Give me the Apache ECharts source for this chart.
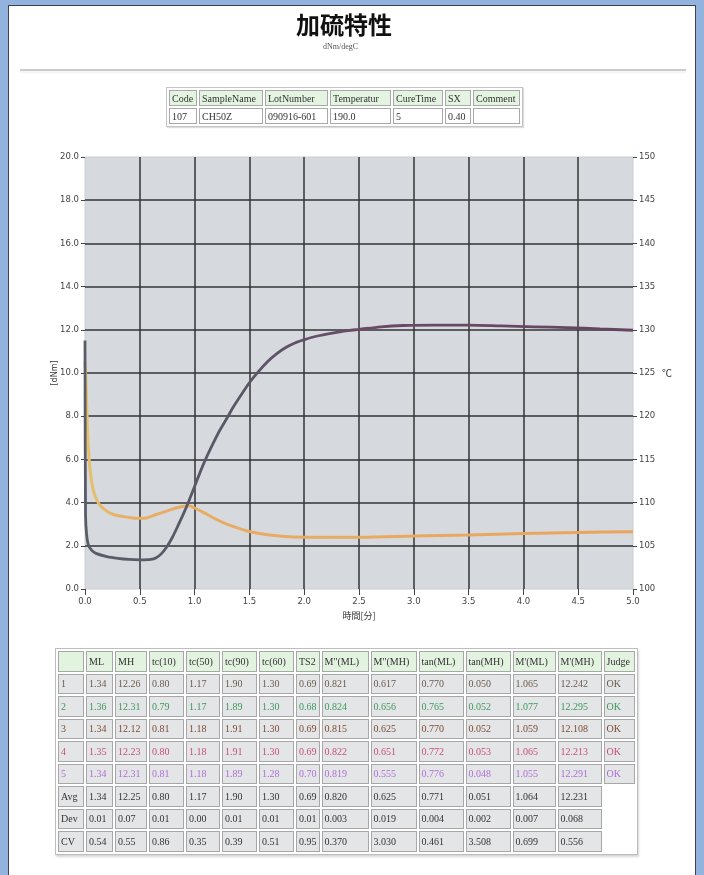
<!DOCTYPE html>
<html>
<head>
<meta charset="utf-8">
<script src="https://cdn.jsdelivr.net/npm/echarts@6/dist/echarts.min.js"></script>
<style>
  html, body { margin: 0; padding: 0; }
  body { width: 704px; height: 875px; background: #93b3df; position: relative; overflow: hidden; }
  #sheet { position: absolute; left: 8px; top: 5px; width: 688px; height: 870px; background: #fff;
           border-left: 1px solid #3d4250; border-top: 1px solid #3d4250; border-right: 1px solid #3d4250; box-sizing: border-box; }
  #rule { position: absolute; left: 20px; top: 69px; width: 666px; height: 2px; background: #cbcbcb;
          box-shadow: 0 2px 2px #f0f0f0; }
  #chart { position: absolute; left: 0; top: 0; width: 704px; height: 875px; }
  table { position: absolute; border-collapse: separate; table-layout: fixed;
          font-family: "Liberation Serif", "DejaVu Serif", serif; z-index: 2; }
  td { box-sizing: border-box; white-space: nowrap; overflow: hidden; padding: 0 2px; }
  #info { left: 166px; top: 87px; border: 1px solid #c4c4c4; border-spacing: 2px; font-size: 10px; background: #fff;
          box-shadow: 1px 1px 1px #ddd; }
  #info td { border: 1px solid #a9a9a9; height: 16px; color: #333; }
  #info tr.h td { background: #e3f4e1; }
  #result { left: 55px; top: 648px; border: 1px solid #bdbdbd; border-spacing: 2px; font-size: 10px; background: #fff;
            box-shadow: 1px 2px 2px #d6d6d6; }
  #result td { border: 1px solid #a7a7a7; height: 20.5px; background: #e4e5e7; color: #333; }
  #result tr.h td { background: #e2f3df; color: #333; }
  #result td.blank { background: #fff; border: none; }
</style>
</head>
<body>
<div id="sheet"></div>
<div id="rule"></div>
<div id="chart"></div>
<table id="info"></table>
<table id="result"></table>
<script>
// Cure curve: elastic torque S' over time (min, dN·m)
const torqueTime  = [0, 0.005, 0.015, 0.03, 0.06, 0.1, 0.2, 0.3, 0.4, 0.5, 0.6, 0.65, 0.7, 0.75, 0.8, 0.85, 0.9, 0.95, 1.0, 1.05, 1.1, 1.17, 1.23, 1.3, 1.35, 1.42, 1.5, 1.58, 1.66, 1.75, 1.84, 1.92, 2.0, 2.1, 2.27, 2.4, 2.5, 2.7, 2.9, 3.2, 3.5, 3.8, 4.1, 4.4, 4.7, 5.0];
const torqueValue = [11.5, 3.4, 2.5, 2.05, 1.8, 1.65, 1.5, 1.42, 1.37, 1.35, 1.37, 1.45, 1.65, 1.98, 2.42, 2.95, 3.5, 4.1, 4.75, 5.4, 6.0, 6.75, 7.35, 7.95, 8.4, 8.95, 9.55, 10.05, 10.5, 10.9, 11.2, 11.4, 11.54, 11.69, 11.86, 11.96, 12.02, 12.14, 12.2, 12.22, 12.22, 12.18, 12.14, 12.1, 12.04, 11.98];

// Viscous torque S'' over time
const lossTime  = [0, 0.01, 0.02, 0.03, 0.045, 0.07, 0.1, 0.14, 0.2, 0.26, 0.35, 0.45, 0.5, 0.57, 0.65, 0.75, 0.83, 0.9, 0.95, 1.0, 1.08, 1.17, 1.25, 1.35, 1.5, 1.65, 1.8, 2.0, 2.25, 2.5, 3.0, 3.5, 4.0, 4.5, 5.0];
const lossValue = [10.5, 9.5, 7.8, 6.6, 5.6, 4.7, 4.2, 3.85, 3.6, 3.45, 3.35, 3.28, 3.27, 3.3, 3.45, 3.62, 3.75, 3.83, 3.85, 3.75, 3.55, 3.3, 3.1, 2.9, 2.66, 2.52, 2.44, 2.4, 2.4, 2.4, 2.45, 2.5, 2.57, 2.62, 2.65];

// Sample information
const infoHeaders = ['Code', 'SampleName', 'LotNumber', 'Temperatur', 'CureTime', 'SX', 'Comment'];
const infoValues  = ['107', 'CH50Z', '090916-601', '190.0', '5', '0.40', ''];

// Cure test results
const resultHeaders = ['', 'ML', 'MH', 'tc(10)', 'tc(50)', 'tc(90)', 'tc(60)', 'TS2', 'M"(ML)', 'M"(MH)', 'tan(ML)', 'tan(MH)', "M'(ML)", "M'(MH)", 'Judge'];
const resultLabels  = ['1', '2', '3', '4', '5', 'Avg', 'Dev', 'CV'];
const resultRows = [
  ['1.34', '12.26', '0.80', '1.17', '1.90', '1.30', '0.69', '0.821', '0.617', '0.770', '0.050', '1.065', '12.242', 'OK'],
  ['1.36', '12.31', '0.79', '1.17', '1.89', '1.30', '0.68', '0.824', '0.656', '0.765', '0.052', '1.077', '12.295', 'OK'],
  ['1.34', '12.12', '0.81', '1.18', '1.91', '1.30', '0.69', '0.815', '0.625', '0.770', '0.052', '1.059', '12.108', 'OK'],
  ['1.35', '12.23', '0.80', '1.18', '1.91', '1.30', '0.69', '0.822', '0.651', '0.772', '0.053', '1.065', '12.213', 'OK'],
  ['1.34', '12.31', '0.81', '1.18', '1.89', '1.28', '0.70', '0.819', '0.555', '0.776', '0.048', '1.055', '12.291', 'OK'],
  ['1.34', '12.25', '0.80', '1.17', '1.90', '1.30', '0.69', '0.820', '0.625', '0.771', '0.051', '1.064', '12.231'],
  ['0.01', '0.07', '0.01', '0.00', '0.01', '0.01', '0.01', '0.003', '0.019', '0.004', '0.002', '0.007', '0.068'],
  ['0.54', '0.55', '0.86', '0.35', '0.39', '0.51', '0.95', '0.370', '3.030', '0.461', '3.508', '0.699', '0.556']
];

const rowColors = ['#6b5c4c', '#3d9a5c', '#7c4c34', '#c6507c', '#b070d6', '#333', '#333', '#333'];
const infoWidths = [28, 64, 63, 61, 50, 26, 47];
const resultWidths = [26, 27, 32, 35, 34, 35, 35, 22, 47, 46, 45, 45, 43, 44, 31];

// ---- tables ----
(function buildTables() {
  const info = document.getElementById('info');
  let html = '<tr class="h">' + infoHeaders.map((h, i) => `<td style="width:${infoWidths[i]}px">${h}</td>`).join('') + '</tr>';
  html += '<tr>' + infoValues.map(v => `<td>${v}</td>`).join('') + '</tr>';
  info.innerHTML = html;

  const res = document.getElementById('result');
  let r = '<tr class="h">' + resultHeaders.map((h, i) => `<td style="width:${resultWidths[i]}px">${h}</td>`).join('') + '</tr>';
  resultRows.forEach((row, i) => {
    const c = rowColors[i];
    r += '<tr>';
    r += `<td style="color:${c}">${resultLabels[i]}</td>`;
    row.forEach(v => { r += `<td style="color:${c}">${v}</td>`; });
    if (i === 5) r += '<td class="blank" rowspan="3"></td>';
    r += '</tr>';
  });
  res.innerHTML = r;
})();

// ---- chart ----
const chart = echarts.init(document.getElementById('chart'), null, { renderer: 'canvas' });
const toPairs = (xs, ys) => xs.map((x, i) => [x, ys[i]]);
const axisText = { color: '#444', fontSize: 8.5, fontFamily: 'DejaVu Sans, sans-serif' };

chart.setOption({
  animation: false,
  graphic: [
    { type: 'text', left: 296, top: 13, style: { text: '加硫特性', font: 'bold 24px "Noto Sans CJK JP", sans-serif', fill: '#111' } },
    { type: 'text', left: 323, top: 43, style: { text: 'dNm/degC', font: '8px "Liberation Serif", serif', fill: '#555' } }
  ],
  grid: { left: 85, right: 71, top: 157, bottom: 286, show: true, backgroundColor: '#d6dadf', borderColor: '#c9cdd2', borderWidth: 1 },
  xAxis: {
    type: 'value', min: 0, max: 5, interval: 0.5,
    name: '時間[分]', nameLocation: 'middle', nameGap: 22,
    nameTextStyle: { color: '#333', fontSize: 9, fontFamily: '"Noto Sans CJK JP", sans-serif' },
    axisLine: { show: false },
    axisTick: { show: true, length: 6, lineStyle: { color: '#444', width: 1 } },
    axisLabel: Object.assign({ margin: 8, formatter: v => v.toFixed(1) }, axisText),
    splitLine: { show: true, showMinLine: false, showMaxLine: false, lineStyle: { color: '#333', width: 1.5 } }
  },
  yAxis: [
    {
      type: 'value', min: 0, max: 20, interval: 2, position: 'left',
      name: '[dNm]', nameLocation: 'middle', nameGap: 26, nameRotate: 90, nameMoveOverlap: false,
      nameTextStyle: { color: '#333', fontSize: 8, fontFamily: 'DejaVu Sans, sans-serif' },
      axisLine: { show: false },
      axisTick: { show: true, length: 4, lineStyle: { color: '#444' } },
      axisLabel: Object.assign({ margin: 6, formatter: v => v.toFixed(1) }, axisText),
      splitLine: { show: true, showMinLine: false, showMaxLine: false, lineStyle: { color: '#333', width: 1.5 } }
    },
    {
      type: 'value', min: 100, max: 150, interval: 5, position: 'right',
      name: '℃', nameLocation: 'middle', nameGap: 29, nameRotate: 0, nameMoveOverlap: false,
      nameTextStyle: { color: '#333', fontSize: 10, fontFamily: '"Noto Sans CJK JP", sans-serif' },
      axisLine: { show: false },
      axisTick: { show: true, length: 4, lineStyle: { color: '#444' } },
      axisLabel: Object.assign({ margin: 6, formatter: v => String(v) }, axisText),
      splitLine: { show: false }
    }
  ],
  series: [
    {
      name: "S''", type: 'line', yAxisIndex: 0, showSymbol: false, smooth: 0.3, z: 3,
      data: toPairs(lossTime, lossValue),
      lineStyle: {
        width: 3,
        color: new echarts.graphic.LinearGradient(0, 0, 1, 0, [
          { offset: 0, color: '#e6c46a' }, { offset: 0.08, color: '#e7ae66' }, { offset: 1, color: '#eaa45c' }
        ])
      }
    },
    {
      name: "S'", type: 'line', yAxisIndex: 0, showSymbol: false, smooth: 0.3, z: 4,
      data: toPairs(torqueTime, torqueValue),
      lineStyle: {
        width: 2.8,
        color: new echarts.graphic.LinearGradient(0, 0, 1, 0, [
          { offset: 0, color: '#5a5c68' }, { offset: 0.3, color: '#5a5668' },
          { offset: 0.5, color: '#6c4a66' }, { offset: 1, color: '#644660' }
        ])
      }
    }
  ]
});
</script>
</body>
</html>
